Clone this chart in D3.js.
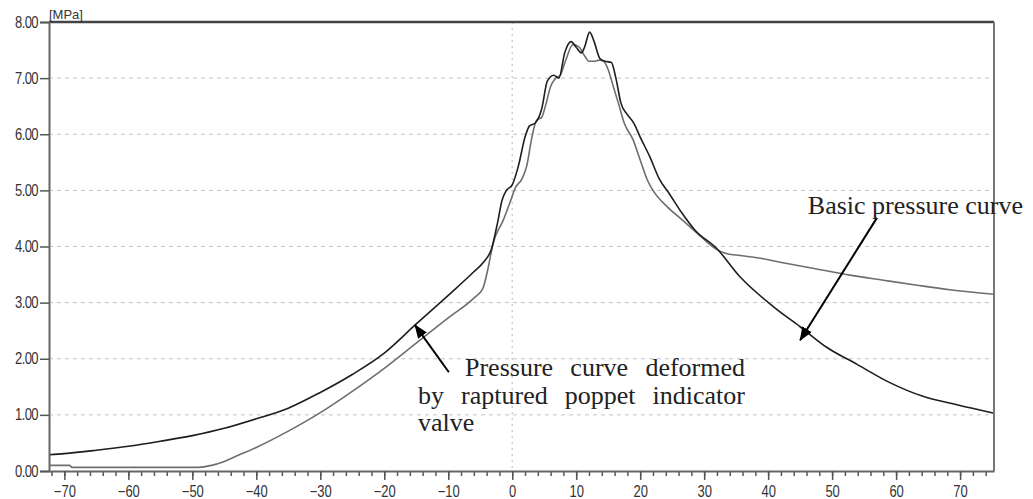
<!DOCTYPE html>
<html>
<head>
<meta charset="utf-8">
<script src="https://cdn.jsdelivr.net/npm/d3@7"></script>
<style>
  html, body { margin: 0; padding: 0; background: #fff; }
  svg { display: block; }
</style>
</head>
<body>
<svg id="chart" width="1033" height="499"></svg>
<script>
// ---- data ----
const crankAngle = [-70, -60, -50, -40, -30, -20, -10, 0, 10, 20, 30, 40, 50, 60, 70];
const pressureTicks = [0, 1, 2, 3, 4, 5, 6, 7, 8];
const unitLabel = "[MPa]";

const basicAngle = [-72.4, -70, -65, -60, -55, -50, -45, -40, -35, -30, -25, -20, -15, -10, -6, -4.5, -3.2,
  -2.3, -1.6, -0.9, 0, 1, 2, 2.7, 3.6, 4.6, 5.5, 6.5, 7.3, 8.2, 9.2, 10, 10.8, 11.3, 12.1, 12.8, 13.7, 14.5,
  15.5, 16.2, 17, 18, 19, 20, 21.5, 23, 24.5, 26.5, 28.5, 32, 35.6, 40.8, 45, 49.2, 53.9, 59.1, 64.2, 69.5, 75.3];
const basicPressure = [0.29, 0.31, 0.37, 0.44, 0.53, 0.63, 0.76, 0.93, 1.12, 1.4, 1.72, 2.1, 2.62, 3.13, 3.55, 3.72, 3.97,
  4.42, 4.82, 5.0, 5.1, 5.45, 5.95, 6.15, 6.2, 6.45, 6.95, 7.05, 7.0, 7.45, 7.65, 7.55, 7.45, 7.55, 7.82, 7.65, 7.35, 7.3,
  7.28, 7.0, 6.55, 6.35, 6.2, 5.95, 5.6, 5.2, 4.95, 4.6, 4.3, 3.96, 3.46, 2.93, 2.57, 2.2, 1.9, 1.57, 1.33, 1.18, 1.03];

const deformedAngle = [-72.4, -69.2, -68.8, -49, -47, -45, -43, -40, -35, -30, -25, -20, -15, -10, -6, -4.6, -3.8,
  -3, -1.4, -0.3, 0.5, 1.5, 2.3, 3, 3.8, 4.6, 5.3, 6, 6.8, 7.5, 8.3, 9.5, 10.5, 11.3, 12, 12.8, 13.6, 14.3, 15,
  15.8, 16.6, 17.5, 18.9, 20, 21.1, 22, 24.2, 26.3, 28.9, 31.4, 33.6, 35.6, 38.3, 42.3, 47.6, 52.8, 58, 63.3, 68.4, 75.3];
const deformedPressure = [0.1, 0.1, 0.065, 0.065, 0.1, 0.17, 0.27, 0.42, 0.71, 1.04, 1.42, 1.83, 2.28, 2.73, 3.08, 3.25, 3.6,
  4.05, 4.47, 4.8, 5.05, 5.2, 5.45, 5.9, 6.25, 6.3, 6.55, 6.85, 7.0, 7.05, 7.3, 7.6, 7.55, 7.4, 7.3, 7.3, 7.32, 7.3, 7.15,
  6.85, 6.55, 6.2, 5.9, 5.54, 5.19, 5.0, 4.71, 4.5, 4.24, 3.99, 3.87, 3.84, 3.8, 3.71, 3.6, 3.49, 3.4, 3.31, 3.23, 3.15];

// annotations (data units)
const basicNote = { lines: ["Basic pressure curve"], textAt: [46.2, 4.58], tail: [57.0, 4.51], tip: [45.0, 2.33] };
const deformedNote = { lines: ["Pressure curve deformed", "by raptured poppet indicator", "valve"],
  tail: [-9.9, 1.76], tip: [-15.2, 2.6] };

// ---- layout ----
const svg = d3.select("#chart");
const pLeft = 49, pRight = 994, pTop = 22, pBottom = 471;
const x = d3.scaleLinear().domain([-72.4, 75.3]).range([pLeft, pRight]);
const y = d3.scaleLinear().domain([0, 8]).range([pBottom, pTop]);

// gridlines
svg.append("g").selectAll("line").data(pressureTicks.filter(d => d > 0 && d < 8)).join("line")
  .attr("x1", pLeft).attr("x2", pRight).attr("y1", d => y(d)).attr("y2", d => y(d))
  .attr("stroke", "#c4c4c4").attr("stroke-width", 1).attr("stroke-dasharray", "4,4");
svg.append("line").attr("x1", x(0)).attr("x2", x(0)).attr("y1", pTop).attr("y2", pBottom)
  .attr("stroke", "#c4c4c4").attr("stroke-width", 1.2).attr("stroke-dasharray", "2,4");

// curves
const line = d3.line().x(d => x(d[0])).y(d => y(d[1])).curve(d3.curveMonotoneX);
svg.append("path").datum(deformedAngle.map((a, i) => [a, deformedPressure[i]]))
  .attr("d", line).attr("fill", "none").attr("stroke", "#6e6e6e").attr("stroke-width", 1.6);
svg.append("path").datum(basicAngle.map((a, i) => [a, basicPressure[i]]))
  .attr("d", line).attr("fill", "none").attr("stroke", "#1e1e1e").attr("stroke-width", 1.6);

// frame
svg.append("line").attr("x1", pLeft).attr("x2", pRight).attr("y1", pTop).attr("y2", pTop)
  .attr("stroke", "#444").attr("stroke-width", 2.5);
svg.append("line").attr("x1", pRight).attr("x2", pRight).attr("y1", pTop).attr("y2", pBottom)
  .attr("stroke", "#777").attr("stroke-width", 2);

// axes
const sans = "Liberation Sans, Arial, sans-serif";
const yAxis = d3.axisLeft(y).tickValues(pressureTicks).tickFormat(d3.format(".2f")).tickSize(9).tickPadding(2);
const gy = svg.append("g").attr("transform", `translate(${pLeft},0)`).call(yAxis);
gy.select(".domain").attr("stroke", "#666").attr("stroke-width", 2);
gy.selectAll(".tick line").attr("stroke", "#555").attr("stroke-width", 1.5);
gy.selectAll(".tick text").attr("font-family", sans).attr("font-size", 13).attr("letter-spacing", -0.6)
  .attr("fill", "#333").attr("transform", "scale(1,1.2)");

const minorTicks = d3.range(-72, 75, 2);
const xMinor = d3.axisBottom(x).tickValues(minorTicks).tickSize(5).tickFormat("");
const gxm = svg.append("g").attr("transform", `translate(0,${pBottom})`).call(xMinor);
gxm.select(".domain").remove();
gxm.selectAll(".tick line").attr("stroke", "#555").attr("stroke-width", 1.5);

const xAxis = d3.axisBottom(x).tickValues(crankAngle).tickSize(9).tickPadding(2).tickSizeOuter(0);
const gx = svg.append("g").attr("transform", `translate(0,${pBottom})`).call(xAxis);
gx.select(".domain").attr("stroke", "#666").attr("stroke-width", 2);
gx.selectAll(".tick line").attr("stroke", "#555").attr("stroke-width", 1.5);
gx.selectAll(".tick text").attr("font-family", sans).attr("font-size", 13)
  .attr("fill", "#333").attr("y", 0).attr("dy", 0).attr("transform", "translate(0,26) scale(1,1.2)");

svg.append("text").attr("x", pLeft).attr("y", 19).text(unitLabel)
  .attr("font-family", sans).attr("font-size", 13).attr("fill", "#333");

// annotations
const serif = "Liberation Serif, Times New Roman, serif";
const defs = svg.append("defs");
defs.append("marker").attr("id", "arr").attr("viewBox", "0 0 14 11").attr("refX", 13).attr("refY", 5.5)
  .attr("markerWidth", 14).attr("markerHeight", 11).attr("markerUnits", "userSpaceOnUse").attr("orient", "auto")
  .append("path").attr("d", "M0,0 L14,5.5 L0,11 Z").attr("fill", "#000");

function arrow(n) {
  svg.append("line").attr("x1", x(n.tail[0])).attr("y1", y(n.tail[1]))
    .attr("x2", x(n.tip[0])).attr("y2", y(n.tip[1]))
    .attr("stroke", "#000").attr("stroke-width", 2).attr("marker-end", "url(#arr)");
}
arrow(basicNote);
arrow(deformedNote);

svg.append("text").attr("x", x(basicNote.textAt[0])).attr("y", y(basicNote.textAt[1]))
  .attr("font-family", serif).attr("font-size", 26).attr("fill", "#222").text(basicNote.lines[0]);

// justified paragraph
const para = [
  { text: deformedNote.lines[0], x0: 465, x1: 745, base: 376, justify: true },
  { text: deformedNote.lines[1], x0: 418, x1: 745, base: 404, justify: true },
  { text: deformedNote.lines[2], x0: 418, x1: 745, base: 431, justify: false }
];
para.forEach(p => {
  const words = p.text.split(" ");
  const nodes = words.map(w => svg.append("text").attr("font-family", serif).attr("font-size", 26)
    .attr("fill", "#222").attr("y", p.base).text(w));
  const widths = nodes.map(n => n.node().getComputedTextLength());
  const total = d3.sum(widths);
  const gap = (p.justify && words.length > 1) ? (p.x1 - p.x0 - total) / (words.length - 1) : 6.5;
  let cx = p.x0;
  nodes.forEach((n, i) => { n.attr("x", cx); cx += widths[i] + gap; });
});
</script>
</body>
</html>
